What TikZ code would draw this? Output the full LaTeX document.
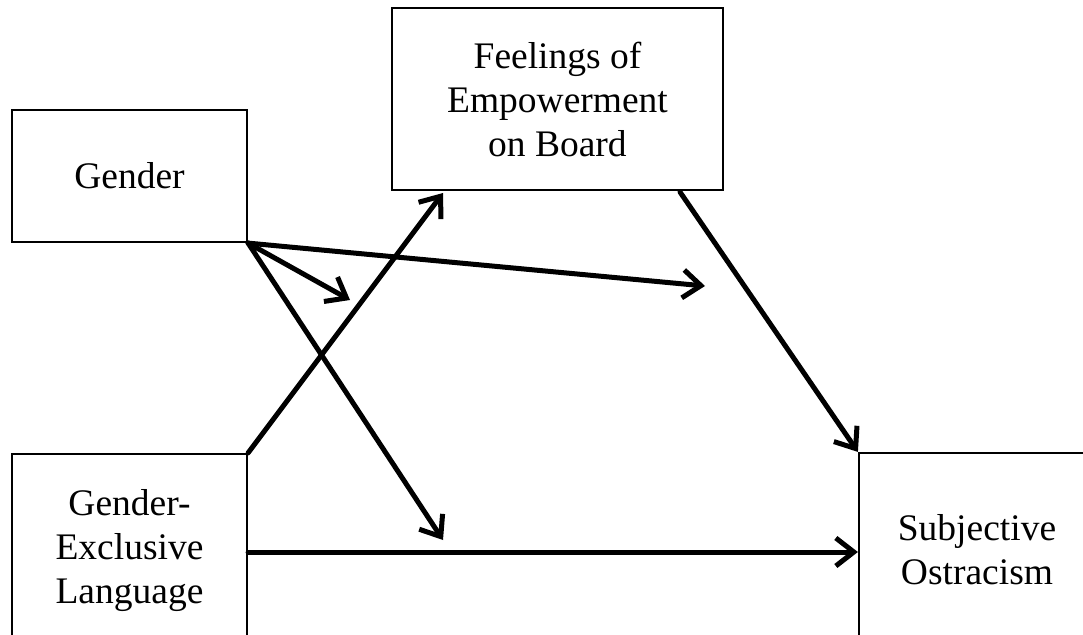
\documentclass[tikz,border=0pt]{standalone}
\usepackage{fontspec}
\setmainfont{Liberation Serif}
\usepackage{tikz}
\usetikzlibrary{arrows.meta,calc}
\tikzset{
 box/.style={draw=black,line width=2.2pt,fill=white,align=center,
   font=\fontsize{37.5}{44}\selectfont,inner sep=0pt},
 arr/.style={-{Straight Barb[length=18pt,width=28pt,line width=5pt]},line width=5pt,
   line cap=round,draw=black}
}

\begin{document}
\begin{tikzpicture}[x=1pt,y=-1pt]
\useasboundingbox (0,0) rectangle (1083,634);
\clip (0,0) rectangle (1083,634);
\node[box,minimum width=235pt,minimum height=132pt] (gender) at (129.5,176) {Gender};
\node[box,minimum width=331pt,minimum height=182pt] (feel) at (557.5,99) {Feelings of\\Empowerment\\on Board};
\node[box,minimum width=235pt,minimum height=194pt] (gel) at (129.5,551) {Gender-\\Exclusive\\Language};
\node[box,minimum width=236pt,minimum height=194pt] (ostr) at (977,550) {Subjective\\Ostracism};
% moderation targets
\coordinate (modA) at (350,300);
\coordinate (modB) at (705,286);
\coordinate (modC) at (443,540);
\coordinate (feelIn) at (443,193);
\coordinate (feelOut) at (680,192);
\foreach \t in {modA,modB,modC} \draw[arr] (gender.south east)--(\t);
\draw[arr] (gel.north east)--(feelIn);
\draw[arr] (feelOut)--(ostr.north west);
\draw[arr] (gel.east |- 0,552)--(ostr.west |- 0,552);
\end{tikzpicture}
\end{document}
